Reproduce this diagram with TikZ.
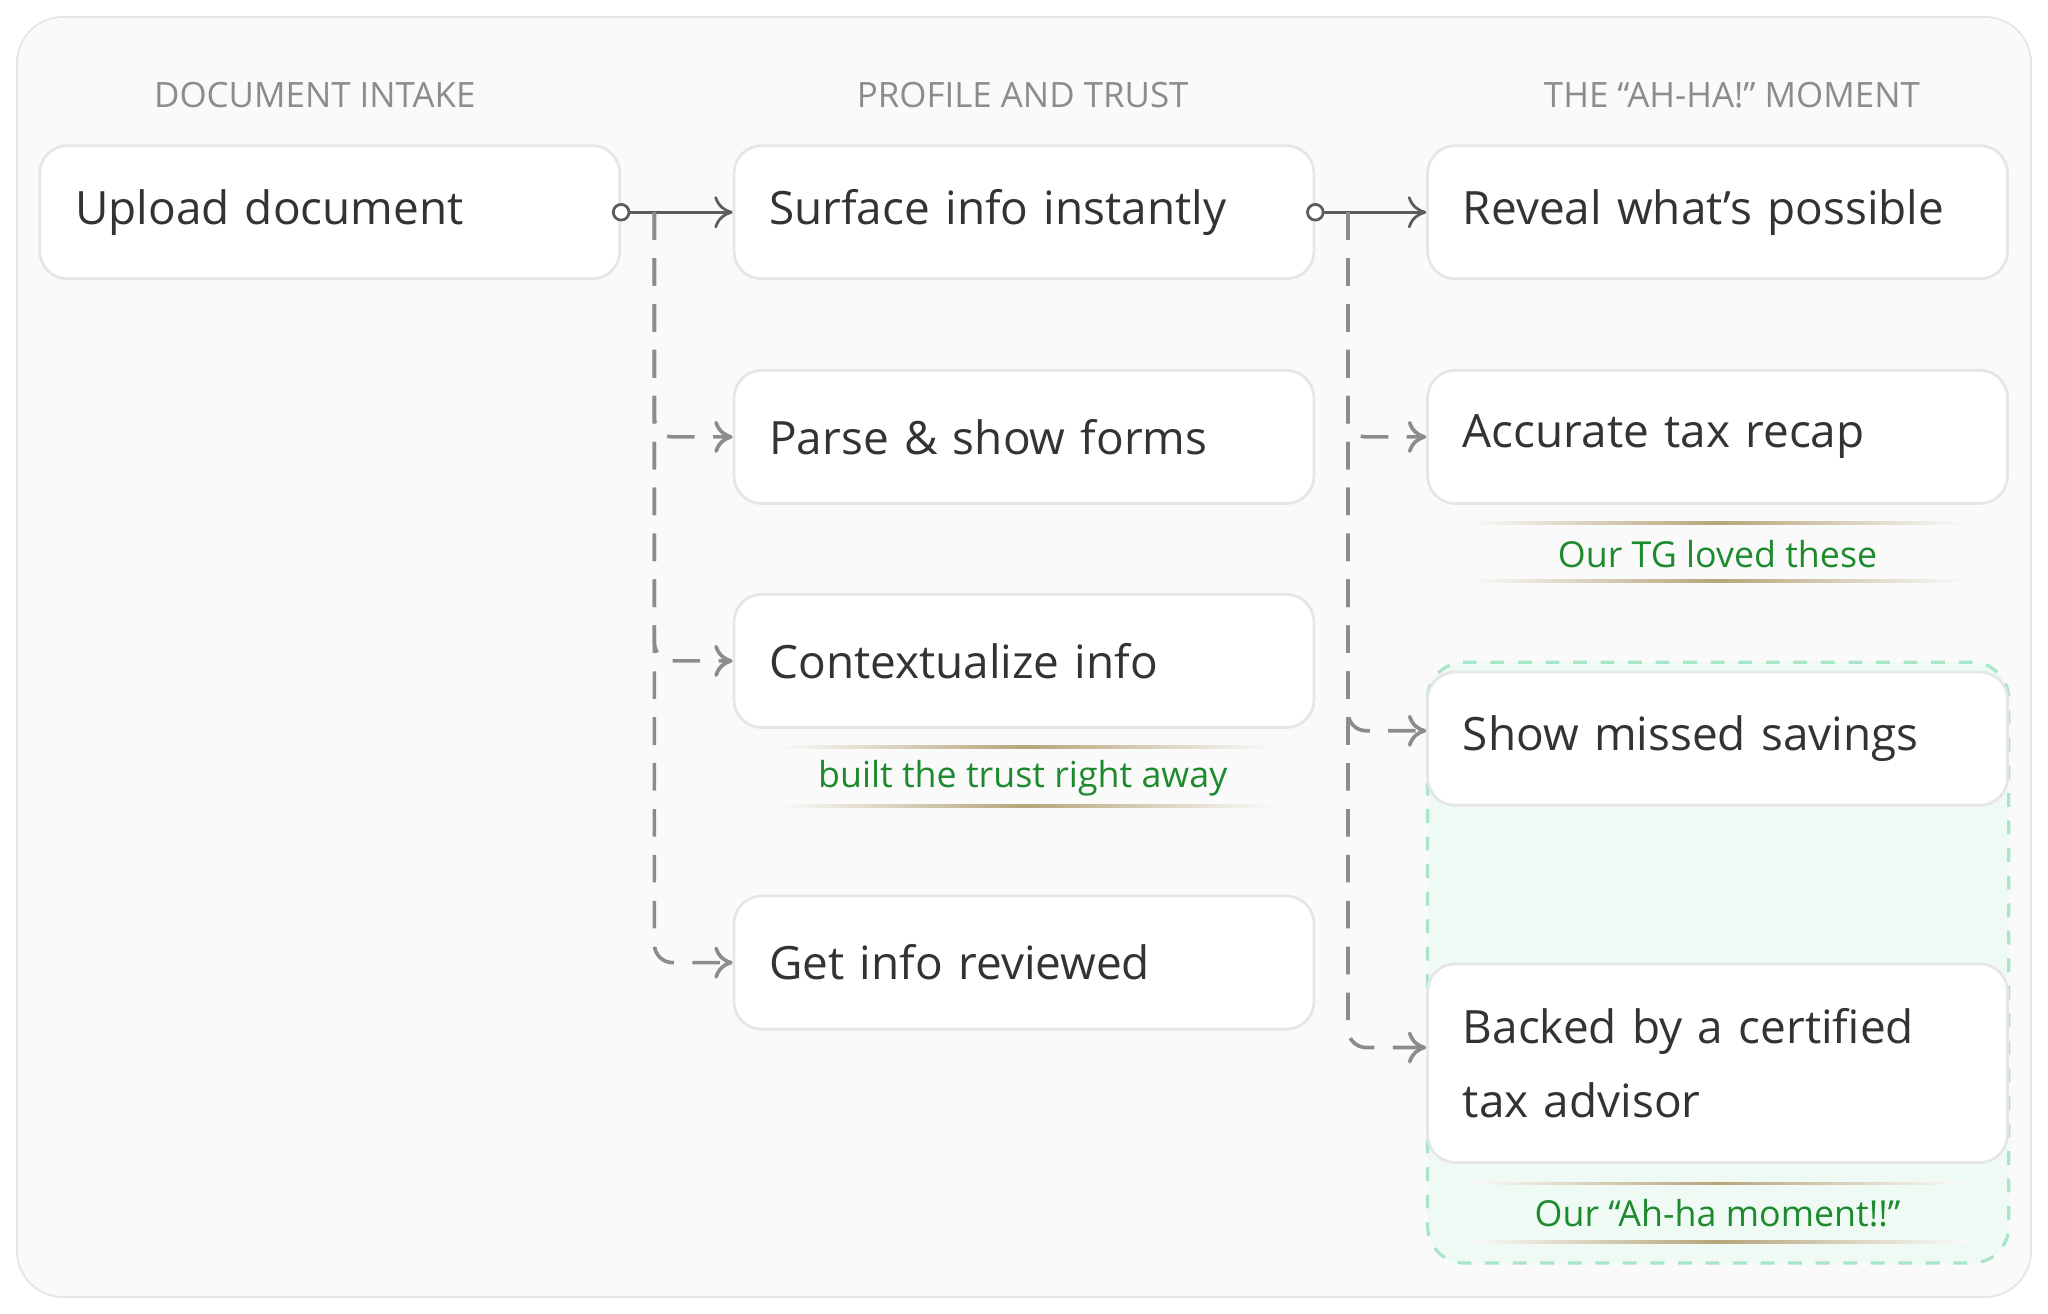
\documentclass[tikz,border=0pt]{standalone}
\usepackage{fontspec}
\setmainfont{Open Sans}
\usetikzlibrary{positioning,arrows.meta}
\definecolor{panel}{HTML}{FAFAFA}
\definecolor{edge}{HTML}{E6E6E6}
\definecolor{ink}{HTML}{333333}
\definecolor{head}{HTML}{8C8C8C}
\definecolor{leaf}{HTML}{1E8A2E}
\definecolor{mint}{HTML}{A8E6C8}
\definecolor{gold}{HTML}{B5A57A}
\tikzset{
  stage/.style={draw=edge, fill=white, rounded corners=6pt, line width=0.6pt,
    minimum width=4.28cm, minimum height=1.02cm, text width=3.9cm, align=left,
    inner xsep=2.7mm, font=\fontsize{10}{16}\selectfont, text=ink},
  phase/.style={font=\fontsize{7.6}{9}\selectfont, text=head},
  note/.style={font=\fontsize{7.8}{10}\selectfont, text=leaf},
  main/.style={-{To[length=4pt,width=7pt]}, draw=ink!80, line width=0.6pt},
  branch/.style={-{To[length=4pt,width=7pt]}, draw=head, line width=0.8pt,
    dash pattern=on 6pt off 4pt, rounded corners=4pt}
}
% a thin rule that fades out at both ends
\newcommand{\fadeline}[3]{%
  \shade[left color=panel, right color=panel, middle color=gold] (#1,#3) rectangle (#2,#3+2.2);}
\begin{document}
\begin{tikzpicture}[x=0.1mm,y=-0.1mm]
\useasboundingbox (0,0) rectangle (1568,1006);
\draw[edge, fill=panel, rounded corners=10pt] (13,13) rectangle (1555,993);
% focus zone
\draw[mint, fill=mint!18, dashed, rounded corners=8pt, line width=0.7pt] (1093,507) rectangle (1538,967);
% phase titles
\node[phase] (h1) at (241,73) {DOCUMENT INTAKE};
\node[phase] (h2) at (783,73) {PROFILE AND TRUST};
\node[phase] (h3) at (1326,73) {THE “AH-HA!” MOMENT};
% stages
\node[stage] (up) at (252.5,162.5) {Upload document};
\node[stage] (surf) at (784,162.5) {Surface info instantly};
\node[stage] (rev) at (1315,162.5) {Reveal what’s possible};
\node[stage] (parse) at (784,334.5) {Parse \& show forms};
\node[stage] (ctx) at (784,506) {Contextualize info};
\node[stage] (rvw) at (784,737) {Get info reviewed};
\node[stage] (recap) at (1315,334.5) {Accurate tax recap};
\node[stage] (save) at (1315,565.5) {Show missed savings};
\node[stage, minimum height=1.52cm] (adv) at (1315,814) {Backed by a certified\\tax advisor};
% notes
\fadeline{1125}{1505}{399}\fadeline{1125}{1505}{444}
\node[note] (n1) at (1315,424) {Our TG loved these};
\fadeline{595}{975}{571}\fadeline{595}{975}{616}
\node[note] (n2) at (783,596) {built the trust right away};
\fadeline{1125}{1505}{905}\fadeline{1125}{1505}{950}
\node[note] (n3) at (1315,929) {Our “Ah-ha moment!!”};
% connectors
\coordinate (t1) at (501,162.5);
\coordinate (t2) at (1032,162.5);
\draw[main] (up.east) -- (surf.west);
\draw[main] (surf.east) -- (rev.west);
\draw[ink!80, fill=white, line width=0.6pt] (up.east) circle (6) (surf.east) circle (6);
\draw[branch] (t1) |- (parse.west);
\draw[branch] (t1) |- (ctx.west);
\draw[branch] (t1) |- (rvw.west);
\draw[branch] (t2) |- (recap.west);
\draw[branch] (t2) |- ([yshift=0.6mm]save.west);
\draw[branch] (t2) |- ([yshift=1.2mm]adv.west);
\end{tikzpicture}
\end{document}
